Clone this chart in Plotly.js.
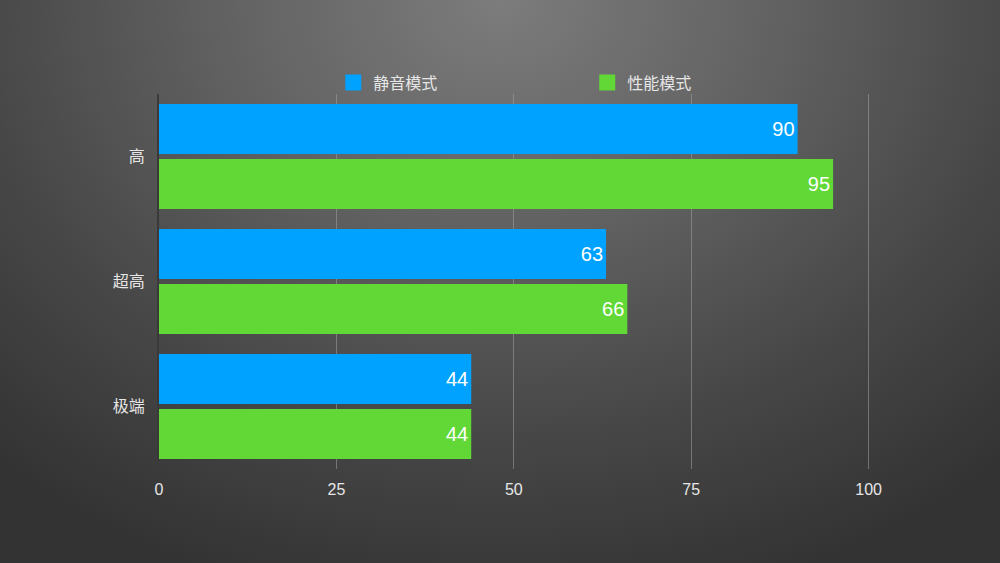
<!DOCTYPE html>
<html><head><meta charset="utf-8">
<script src="https://cdn.plot.ly/plotly-3.0.1.min.js"></script>
<style>
html,body{margin:0;padding:0;width:1000px;height:563px;overflow:hidden;
background:radial-gradient(ellipse 75% 110% at 50% 0%, #7c7c7c 0%, #636363 35%, #474747 70%, #333333 100%);}
#chart{width:1000px;height:563px;}
</style></head>
<body><div id="chart"></div>
<script>
const categories = ['高', '超高', '极端'];
const seriesNames = ['静音模式', '性能模式'];
const quietValues = [90, 63, 44];
const perfValues = [95, 66, 44];
const xTicks = [0, 25, 50, 75, 100];

const FONT = '"Helvetica Neue", "Liberation Sans", "Noto Sans CJK SC", sans-serif';

function barTrace(name, vals, color) {
  return {
    type: 'bar', orientation: 'h', name: name,
    y: categories, x: vals,
    marker: {color: color, line: {width: 0}},
    text: vals.map(String), textposition: 'inside', insidetextanchor: 'end',
    textfont: {color: '#ffffff', size: 20, family: FONT},
    cliponaxis: false, hoverinfo: 'skip'
  };
}

const data = [
  barTrace(seriesNames[0], quietValues, '#00a2ff'),
  barTrace(seriesNames[1], perfValues, '#61d836')
];

const layout = {
  width: 1000, height: 563,
  paper_bgcolor: 'rgba(0,0,0,0)', plot_bgcolor: 'rgba(0,0,0,0)',
  margin: {l: 159, r: 129.6, t: 94, b: 94},
  barmode: 'group', bargap: 0.12, bargroupgap: 0.0909,
  font: {family: FONT, color: '#e6e6e6', size: 16},
  xaxis: {
    range: [0, 100.2], tickvals: xTicks, ticktext: xTicks.map(String),
    showgrid: true, gridcolor: 'rgba(160,160,160,0.55)', gridwidth: 1,
    zeroline: false, showline: false,
    ticks: 'outside', ticklen: 6, tickcolor: 'rgba(0,0,0,0)',
    tickfont: {size: 16, color: '#e6e6e6'}, fixedrange: true
  },
  yaxis: {
    autorange: 'reversed', type: 'category',
    showgrid: false, zeroline: false,
    showline: true, linecolor: '#3a3a3a', linewidth: 2,
    ticks: 'outside', ticklen: 9, tickcolor: 'rgba(0,0,0,0)',
    tickfont: {size: 16, color: '#e6e6e6'}, fixedrange: true
  },
  showlegend: true,
  legend: {
    orientation: 'h', x: (333 - 159) / 710, xanchor: 'left',
    y: 1 + 11.5 / 375, yanchor: 'middle',
    entrywidth: 209, bgcolor: 'rgba(0,0,0,0)',
    font: {size: 16, color: '#e6e6e6'}, traceorder: 'normal'
  }
};

Plotly.newPlot('chart', data, layout, {displayModeBar: false, staticPlot: true}).then(function(){
  document.querySelectorAll('.legend .legendpoints path').forEach(function(p){
    p.setAttribute('d', 'M8,8H-8V-8H8Z');
  });
});
</script></body></html>
